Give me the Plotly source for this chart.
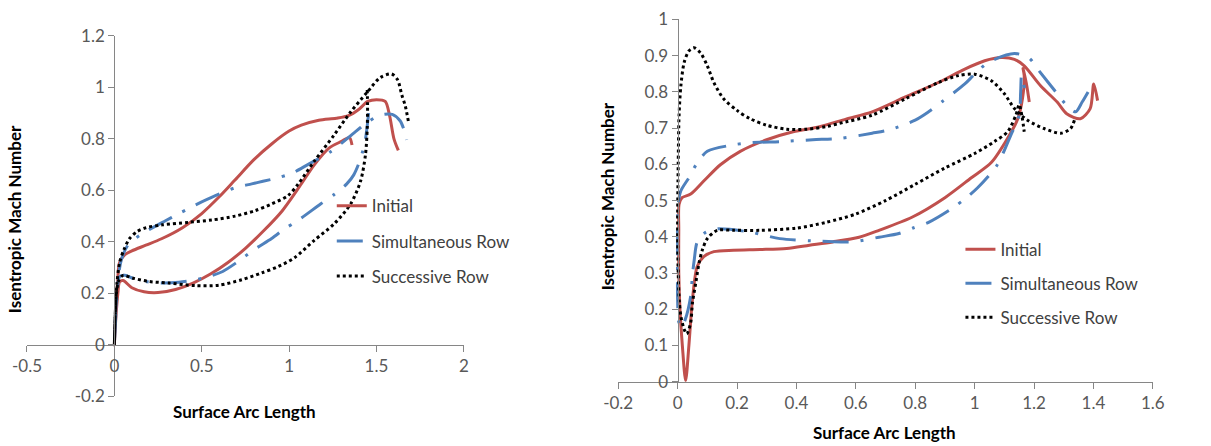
import plotly.graph_objects as go

# ---------------- data ----------------
# Left chart: blade 1
L_init_x = [1.36, 1.345, 1.30, 1.23, 1.145, 1.06, 0.96, 0.85, 0.75, 0.65, 0.55, 0.45, 0.35, 0.25, 0.17, 0.10, 0.05, 0.03,
            0.02, 0.008, 0.0,
            0.008, 0.018, 0.03, 0.06, 0.10, 0.18, 0.27, 0.39, 0.50, 0.60, 0.69, 0.80, 0.90, 1.00, 1.07, 1.17, 1.27, 1.34,
            1.40, 1.45, 1.50, 1.55, 1.575, 1.60, 1.625]
L_init_y = [0.776, 0.805, 0.79, 0.765, 0.70, 0.615, 0.52, 0.44, 0.375, 0.32, 0.275, 0.24, 0.215, 0.203, 0.206, 0.222, 0.25, 0.245,
            0.20, 0.10, 0.0,
            0.12, 0.24, 0.32, 0.35, 0.365, 0.387, 0.412, 0.455, 0.51, 0.575, 0.64, 0.72, 0.78, 0.83, 0.853, 0.872, 0.88, 0.89,
            0.915, 0.945, 0.952, 0.945, 0.89, 0.80, 0.755]

L_simu_x = [1.455, 1.447, 1.437, 1.41, 1.37, 1.33, 1.26, 1.18, 1.05, 0.975, 0.90, 0.80, 0.70, 0.62, 0.54, 0.46, 0.37, 0.28,
            0.19, 0.11, 0.06, 0.03, 0.018, 0.007, 0.0,
            0.007, 0.02, 0.04, 0.08, 0.16, 0.295, 0.37, 0.455, 0.578, 0.69, 0.786, 0.85, 0.937, 1.022, 1.107, 1.24, 1.38,
            1.45, 1.52, 1.59, 1.635, 1.66, 1.673]
L_simu_y = [0.90, 0.85, 0.80, 0.725, 0.66, 0.625, 0.585, 0.547, 0.483, 0.451, 0.413, 0.37, 0.32, 0.285, 0.265, 0.252, 0.243, 0.24,
            0.245, 0.258, 0.27, 0.265, 0.22, 0.10, 0.0,
            0.12, 0.25, 0.33, 0.39, 0.432, 0.483, 0.51, 0.54, 0.579, 0.61, 0.625, 0.635, 0.649, 0.668, 0.70, 0.751, 0.828,
            0.865, 0.892, 0.895, 0.87, 0.83, 0.796]

L_succ_x = [1.447, 1.449, 1.447, 1.437, 1.409, 1.352, 1.258, 1.144, 1.03, 0.937, 0.842, 0.729, 0.60, 0.465, 0.313, 0.20,
            0.106, 0.05, 0.025, 0.012, 0.004, 0.0,
            0.005, 0.015, 0.03, 0.055, 0.087, 0.13, 0.181, 0.276, 0.427, 0.559, 0.691, 0.805, 0.899, 0.993, 1.05, 1.144,
            1.258, 1.352, 1.447, 1.522, 1.585, 1.62, 1.645, 1.664, 1.683]
L_succ_y = [0.99, 0.93, 0.84, 0.738, 0.636, 0.547, 0.47, 0.406, 0.338, 0.304, 0.279, 0.253, 0.232, 0.23, 0.24, 0.246,
            0.259, 0.27, 0.25, 0.20, 0.10, 0.0,
            0.12, 0.24, 0.32, 0.37, 0.413, 0.44, 0.455, 0.466, 0.476, 0.485, 0.50, 0.521, 0.547, 0.579, 0.623, 0.713,
            0.815, 0.904, 0.981, 1.038, 1.052, 1.03, 0.97, 0.93, 0.866]

# Right chart: blade 2
R_init_x = [1.414, 1.401, 1.389, 1.356, 1.31, 1.278, 1.222, 1.167, 1.134, 1.089, 1.034, 0.967, 0.878, 0.767, 0.655, 0.567,
            0.478, 0.389, 0.30, 0.211, 0.144, 0.088, 0.044, 0.015, 0.005, 0.004, 0.004, 0.008, 0.016, 0.027, 0.038, 0.05,
            0.066, 0.088, 0.122, 0.188, 0.278, 0.367, 0.444, 0.522, 0.611, 0.678, 0.789, 0.90, 0.989, 1.056, 1.111, 1.145,
            1.161, 1.167, 1.163, 1.175, 1.184]
R_init_y = [0.776, 0.822, 0.754, 0.726, 0.74, 0.772, 0.817, 0.872, 0.89, 0.895, 0.886, 0.863, 0.826, 0.786, 0.745, 0.725,
            0.704, 0.69, 0.668, 0.636, 0.599, 0.554, 0.518, 0.508, 0.49, 0.42, 0.30, 0.20, 0.10, 0.003, 0.10, 0.227,
            0.318, 0.345, 0.359, 0.363, 0.365, 0.368, 0.377, 0.386, 0.399, 0.418, 0.454, 0.508, 0.563, 0.605, 0.672, 0.725,
            0.781, 0.845, 0.865, 0.82, 0.772]

R_simu_x = [1.382, 1.362, 1.34, 1.31, 1.278, 1.217, 1.184, 1.134, 1.045, 1.0, 0.967, 0.889, 0.845, 0.80, 0.711, 0.655, 0.55,
            0.455, 0.35, 0.25, 0.188, 0.10, 0.066, 0.038, 0.011, 0.002, 0.0, 0.0, 0.004, 0.012, 0.025, 0.044, 0.05, 0.056,
            0.066, 0.09, 0.133, 0.244, 0.344, 0.45, 0.55, 0.60, 0.678, 0.745, 0.795, 0.845, 0.925, 0.972, 1.011, 1.075,
            1.122, 1.15, 1.155, 1.158, 1.168]
R_simu_y = [0.80, 0.772, 0.745, 0.763, 0.795, 0.858, 0.893, 0.906, 0.881, 0.849, 0.822, 0.772, 0.745, 0.722, 0.695, 0.686, 0.672,
            0.668, 0.663, 0.66, 0.654, 0.636, 0.604, 0.563, 0.527, 0.49, 0.35, 0.23, 0.165, 0.15, 0.17, 0.236, 0.295, 0.336,
            0.386, 0.41, 0.422, 0.413, 0.395, 0.389, 0.386, 0.387, 0.399, 0.409, 0.425, 0.44, 0.479, 0.508, 0.536, 0.597,
            0.681, 0.736, 0.80, 0.845, 0.81]

R_succ_x = [1.336, 1.323, 1.29, 1.234, 1.178, 1.134, 1.10, 1.056, 1.0, 0.945, 0.878, 0.767, 0.655, 0.544, 0.5, 0.433, 0.367,
            0.30, 0.244, 0.20, 0.155, 0.122, 0.10, 0.077, 0.055, 0.038, 0.022, 0.011, 0.005, 0.002, 0.0, 0.002, 0.006, 0.011,
            0.022, 0.031, 0.044, 0.05, 0.061, 0.072, 0.083, 0.10, 0.133, 0.188, 0.278, 0.40, 0.50, 0.60, 0.70,
            0.80, 0.90, 1.0, 1.067, 1.111, 1.139, 1.15, 1.16, 1.167]
R_succ_y = [0.722, 0.699, 0.686, 0.699, 0.722, 0.754, 0.795, 0.831, 0.849, 0.845, 0.826, 0.781, 0.736, 0.713, 0.704, 0.697, 0.697,
            0.708, 0.726, 0.749, 0.781, 0.826, 0.872, 0.908, 0.922, 0.913, 0.881, 0.817, 0.736, 0.60, 0.418, 0.30, 0.22, 0.181,
            0.145, 0.132, 0.163, 0.218, 0.272, 0.327, 0.363, 0.395, 0.418, 0.418, 0.418, 0.424, 0.44, 0.463, 0.50,
            0.545, 0.59, 0.63, 0.663, 0.69, 0.736, 0.765, 0.73, 0.69]

series_names = ["Initial", "Simultaneous Row", "Successive Row"]

L_xticks = [-0.5, 0, 0.5, 1, 1.5, 2]
L_xtext = ["-0.5", "0", "0.5", "1", "1.5", "2"]
L_yticks = [-0.2, 0, 0.2, 0.4, 0.6, 0.8, 1, 1.2]
L_ytext = ["-0.2", "0", "0.2", "0.4", "0.6", "0.8", "1", "1.2"]
R_xticks = [-0.2, 0, 0.2, 0.4, 0.6, 0.8, 1, 1.2, 1.4, 1.6]
R_xtext = ["-0.2", "0", "0.2", "0.4", "0.6", "0.8", "1", "1.2", "1.4", "1.6"]
R_yticks = [0, 0.1, 0.2, 0.3, 0.4, 0.5, 0.6, 0.7, 0.8, 0.9, 1]
R_ytext = ["0", "0.1", "0.2", "0.3", "0.4", "0.5", "0.6", "0.7", "0.8", "0.9", "1"]

# ---------------- styling / layout ----------------
W, H = 1211, 446
OFF = 8                      # default page margin around the plot div
SX = (W + 2 * OFF) / W       # page is photographed whole and fitted to the window
SY = (H + 2 * OFF) / H
def fx(v): return (v * SX - OFF) / W        # target pixel -> paper x
def fy(v): return 1 - (v * SY - OFF) / H    # target pixel -> paper y

FONT = "Lato"
RED = "#C0504D"
BLUE = "#4F81BD"
BLACK = "#000000"
styles = [dict(color=RED, width=3, dash="solid"),
          dict(color=BLUE, width=3, dash="26px,12px,3px,12px"),
          dict(color=BLACK, width=3, dash="dot")]

fig = go.Figure()
left = [(L_init_x, L_init_y), (L_simu_x, L_simu_y), (L_succ_x, L_succ_y)]
right = [(R_init_x, R_init_y), (R_simu_x, R_simu_y), (R_succ_x, R_succ_y)]
for i, (xs, ys) in enumerate(left):
    fig.add_trace(go.Scatter(x=xs, y=ys, mode="lines", name=series_names[i],
                             line=dict(shape="spline", smoothing=0.8, **styles[i]),
                             xaxis="x", yaxis="y", legend="legend", legendgroup="L%d" % i))
for i, (xs, ys) in enumerate(right):
    fig.add_trace(go.Scatter(x=xs, y=ys, mode="lines", name=series_names[i],
                             line=dict(shape="spline", smoothing=0.8, **styles[i]),
                             xaxis="x2", yaxis="y2", legend="legend2", legendgroup="R%d" % i))

axcommon = dict(showgrid=False, zeroline=False, showline=True, linecolor="#868686", linewidth=1,
                ticks="outside", ticklen=6, tickcolor="#868686", tickwidth=1,
                tickfont=dict(family=FONT, size=17, color="#595959"), tickmode="array")

fig.update_layout(
    width=W, height=H, margin=dict(l=0, r=0, t=0, b=0),
    paper_bgcolor="white", plot_bgcolor="rgba(0,0,0,0)",
    xaxis=dict(domain=[fx(20), fx(461)], range=[-0.5, 2], anchor="free", position=fy(346),
               tickvals=L_xticks, ticktext=L_xtext, **axcommon),
    yaxis=dict(domain=[fy(398.2), fy(32.8)], range=[-0.2, 1.2], anchor="free", position=fx(108),
               tickvals=L_yticks, ticktext=L_ytext, **axcommon),
    xaxis2=dict(domain=[fx(616.8), fx(1156.5)], range=[-0.2, 1.6], anchor="y2",
                tickvals=R_xticks, ticktext=R_xtext, **axcommon),
    yaxis2=dict(domain=[fy(383.3), fy(16.3)], range=[0, 1], anchor="free", position=fx(676.8),
                tickvals=R_yticks, ticktext=R_ytext, **axcommon),
    legend=dict(x=324 / W, y=1 - 186 / H, xanchor="left", yanchor="top", bgcolor="rgba(0,0,0,0)",
                font=dict(family=FONT, size=17, color="#404040"), tracegroupgap=10),
    legend2=dict(x=967 / W, y=1 - 231.5 / H, xanchor="left", yanchor="top", bgcolor="rgba(0,0,0,0)",
                 font=dict(family=FONT, size=17, color="#404040"), tracegroupgap=9),
    showlegend=True,
)

title_font = dict(family=FONT, size=17, color="#000000")
fig.add_annotation(text="<b>Surface Arc Length</b>", xref="paper", yref="paper", x=fx(240), y=fy(413),
                   showarrow=False, font=title_font, xanchor="center", yanchor="middle")
fig.add_annotation(text="<b>Surface Arc Length</b>", xref="paper", yref="paper", x=fx(886), y=fy(435),
                   showarrow=False, font=title_font, xanchor="center", yanchor="middle")
fig.add_annotation(text="<b>Isentropic Mach Number</b>", xref="paper", yref="paper", x=fx(7.5), y=fy(219),
                   showarrow=False, font=title_font, textangle=-90, xanchor="center", yanchor="middle")
fig.add_annotation(text="<b>Isentropic Mach Number</b>", xref="paper", yref="paper", x=fx(606), y=fy(195),
                   showarrow=False, font=title_font, textangle=-90, xanchor="center", yanchor="middle")

fig.write_html("out.html")
